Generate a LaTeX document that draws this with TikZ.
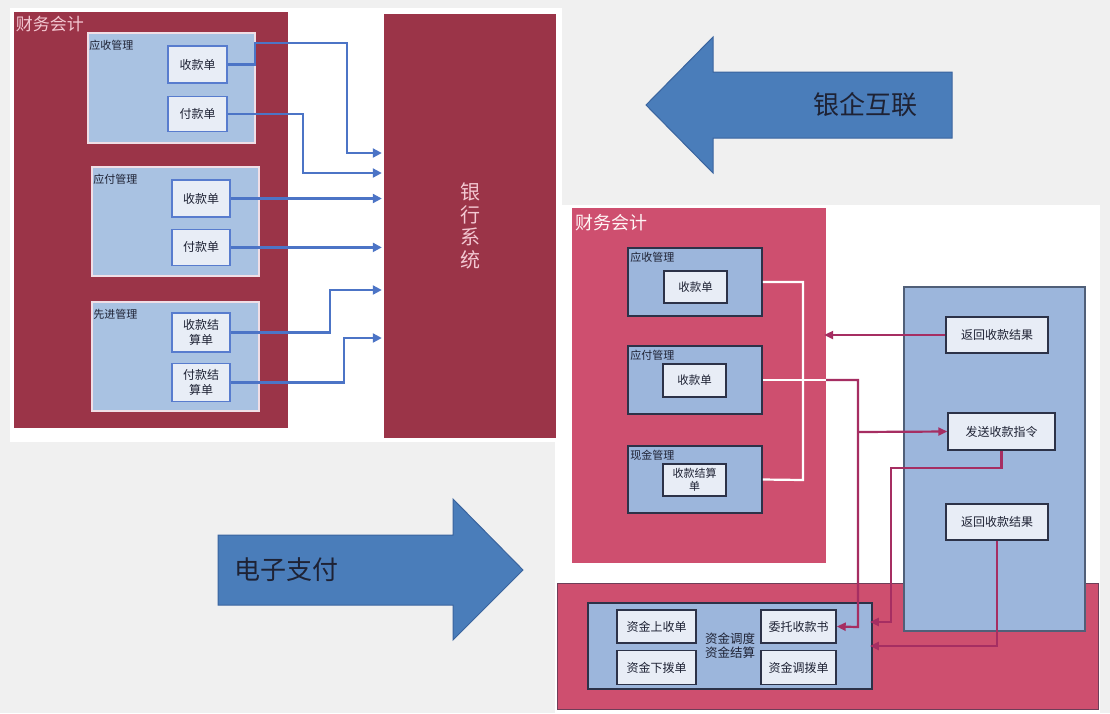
\documentclass[tikz,border=0pt]{standalone}
\usepackage{fontspec}
\setmainfont{Noto Sans CJK SC}
\usepackage{xcolor}
\definecolor{winered}{RGB}{155,52,72}
\definecolor{rosered}{RGB}{206,79,111}
\definecolor{paleblue}{RGB}{169,194,226}
\definecolor{midblue}{RGB}{156,182,220}
\definecolor{docfill}{RGB}{232,237,246}
\definecolor{docedge}{RGB}{88,124,206}
\definecolor{grpedge}{RGB}{240,222,230}
\definecolor{navy}{RGB}{44,50,72}
\definecolor{bankedge}{RGB}{80,95,120}
\definecolor{linkblue}{RGB}{76,116,198}
\definecolor{linkmag}{RGB}{166,46,98}
\definecolor{arrowblue}{RGB}{74,125,186}
\definecolor{arrowedge}{RGB}{58,100,158}
\definecolor{inktext}{RGB}{30,34,52}
\definecolor{titlepink}{RGB}{243,200,210}
\definecolor{slidegray}{RGB}{240,240,240}
\usepackage{tikz}
\usetikzlibrary{arrows.meta,positioning}

\begin{document}
\begin{tikzpicture}[x=1pt, y=-1pt,
  panel/.style={fill=#1, inner sep=0pt},
  ptitle/.style={anchor=north west, inner sep=2pt, text=titlepink, font=\fontsize{17}{17}\selectfont},
  grpbox/.style={draw=#1, line width=1.6pt, inner sep=0pt},
  gtitle/.style={anchor=north west, inner sep=0pt, text=inktext, font=\fontsize{11}{11}\selectfont},
  docbox/.style={draw=#1, line width=1.4pt, fill=docfill, inner sep=0pt, align=center, text=inktext, font=\fontsize{12}{15}\selectfont},
  lgrp/.style={grpbox=grpedge, fill=paleblue, minimum width=167pt, minimum height=109pt},
  ldoc/.style={docbox=docedge, minimum width=58pt, minimum height=37pt},
  rgrp/.style={grpbox=navy, fill=midblue, minimum width=134pt, minimum height=68pt},
  rdoc/.style={docbox=navy, minimum width=63pt, minimum height=32pt, font=\fontsize{11.5}{13}\selectfont},
  bdoc/.style={docbox=navy, minimum width=102pt, minimum height=36pt, font=\fontsize{12}{14}\selectfont},
  fdoc/.style={docbox=navy, minimum width=79pt, minimum height=33pt, font=\fontsize{12}{14}\selectfont},
  bigarrow/.style={fill=arrowblue, draw=arrowedge, line width=1pt},
  bigtext/.style={text=inktext, font=\fontsize{26}{26}\selectfont},
  link/.style={draw=linkblue, line width=2.2pt, shorten >=2pt, -{Triangle[length=9pt,width=9pt]}},
  wire/.style={draw=white, line width=2.2pt},
  mwire/.style={draw=linkmag, line width=2.2pt},
  mlink/.style={mwire, -{Triangle[length=9pt,width=8pt]}}
]
% slide background
\fill[slidegray] (0,0) rectangle (1110,713);
\fill[white] (10,8) rectangle (562,442);
\fill[white] (555,205) rectangle (1100,713);
\useasboundingbox (0,0) rectangle (1110,713);

% left: accounting side
\node[panel=winered, minimum width=274pt, minimum height=416pt,
  label={[ptitle, yshift=-2pt]north west:财务会计}] (lfa) at (151,220) {};

\node[lgrp, minimum height=110pt, label={[gtitle, xshift=2pt, yshift=-8pt]north west:应收管理}] (lys) at (171.5,88) {};
\node[ldoc, minimum width=59pt] (lys1) at (197.5,64.5) {收款单};
\node[ldoc, minimum width=59pt, minimum height=35pt, below=12pt of lys1] (lys2) {付款单};

\node[lgrp, label={[gtitle, xshift=2pt, yshift=-8pt]north west:应付管理}] (lyf) at (175.5,221.5) {};
\node[ldoc] (lyf1) at (201,198.5) {收款单};
\node[ldoc, minimum height=36pt, below=11pt of lyf1] (lyf2) {付款单};

\node[lgrp, label={[gtitle, xshift=2pt, yshift=-8pt]north west:先进管理}] (lxj) at (175.5,356.5) {};
\node[ldoc, minimum height=39pt] (lxj1) at (201,332.5) {收款结\\算单};
\node[ldoc, minimum height=38pt, below=10pt of lxj1] (lxj2) {付款结\\算单};

% bank system
\node[panel=winered, minimum width=172pt, minimum height=424pt, align=center,
  text=titlepink, font=\fontsize{20}{22.5}\selectfont] (bank) at (470,226) {银\\行\\系\\统};

\draw[link] (lys1.east) -| (255,43) -| (347,153) -- (bank.west |- 0,153);
\draw[link] (lys2.east) -| (303,173) -- (bank.west |- 0,173);
\draw[link] (lyf1.east) -- (lyf1.east -| bank.west);
\draw[link] (lyf2.east) -- (lyf2.east -| bank.west);
\draw[link] (lxj1.east) -| (330,290) -- (bank.west |- 0,290);
\draw[link] (lxj2.east) -| (344,338) -- (bank.west |- 0,338);

% big arrows
\filldraw[bigarrow] (646,105) -- (713,37) -- (713,72) -- (952,72) -- (952,138) -- (713,138) -- (713,173) -- cycle;
\node[bigtext] (yqhl) at (865,105) {银企互联};
\filldraw[bigarrow] (218,535) -- (453,535) -- (453,499) -- (523,570) -- (453,640) -- (453,605) -- (218,605) -- cycle;
\node[bigtext] (dzzf) at (286,570) {电子支付};

% right: accounting side
\node[panel=rosered, minimum width=254pt, minimum height=355pt,
  label={[ptitle, text=white!85!pink, font=\fontsize{18}{18}\selectfont, xshift=1pt, yshift=-4pt]north west:财务会计}] (rfa) at (699,385.5) {};

\node[rgrp, label={[gtitle, xshift=3pt, yshift=-5pt]north west:应收管理}] (rys) at (695,282) {};
\node[rdoc] (rys1) at (695.5,287) {收款单};
\node[rgrp, label={[gtitle, xshift=3pt, yshift=-5pt]north west:应付管理}] (ryf) at (695,380) {};
\node[rdoc, minimum height=33pt] (ryf1) at (694.5,380.5) {收款单};
\node[rgrp, minimum height=67pt, label={[gtitle, xshift=3pt, yshift=-5pt]north west:现金管理}] (rxj) at (695,479.5) {};
\node[rdoc, font=\fontsize{11}{13}\selectfont] (rxj1) at (694.5,480) {收款结算\\单};

% fund scheduling strip
\node[panel=rosered, draw=navy!60!rosered, line width=1pt, minimum width=541pt, minimum height=126pt] (rfund) at (827.5,646) {};
\node[rgrp, minimum width=284pt, minimum height=86pt, align=center, text=inktext,
  font=\fontsize{12.5}{14}\selectfont] (fund) at (730,646) {资金调度\\资金结算};
\node[fdoc] (up) at (656.5,626.5) {资金上收单};
\node[fdoc, minimum height=34pt, below=6pt of up] (down) {资金下拨单};
\node[fdoc, minimum width=75pt] (entrust) at (798.5,626.5) {委托收款书};
\node[fdoc, minimum width=75pt, minimum height=34pt, below=6pt of entrust] (alloc) {资金调拨单};

% bank side
\node[panel=midblue, draw=bankedge, line width=1.5pt, minimum width=181pt, minimum height=344pt] (rbank) at (994.5,459) {};
\node[bdoc] (back1) at (997,335) {返回收款结果};
\node[bdoc, minimum width=107pt, minimum height=37pt] (send) at (1001.5,431.5) {发送收款指令};
\node[bdoc] (back2) at (997,522) {返回收款结果};

\draw[wire] (rys.east) -| (803,480) -- (rxj.east);
\draw[wire] (ryf.east) -- (ryf.east -| rfa.east);
\coordinate (split) at (858,432);
\draw[mlink] (ryf.east -| rfa.east) -| (858,627) -- (entrust.east);
\draw[mlink] (split) -- (send.west);
\draw[mlink, shorten >=-2pt] (back1.west) -- (back1.west -| rfa.east);
\draw[mlink, shorten >=-3pt] (send.south) |- (891,468) |- (fund.east |- 0,622);
\draw[mlink, shorten >=-3pt] (back2.south) |- (fund.east);
\end{tikzpicture}
\end{document}
